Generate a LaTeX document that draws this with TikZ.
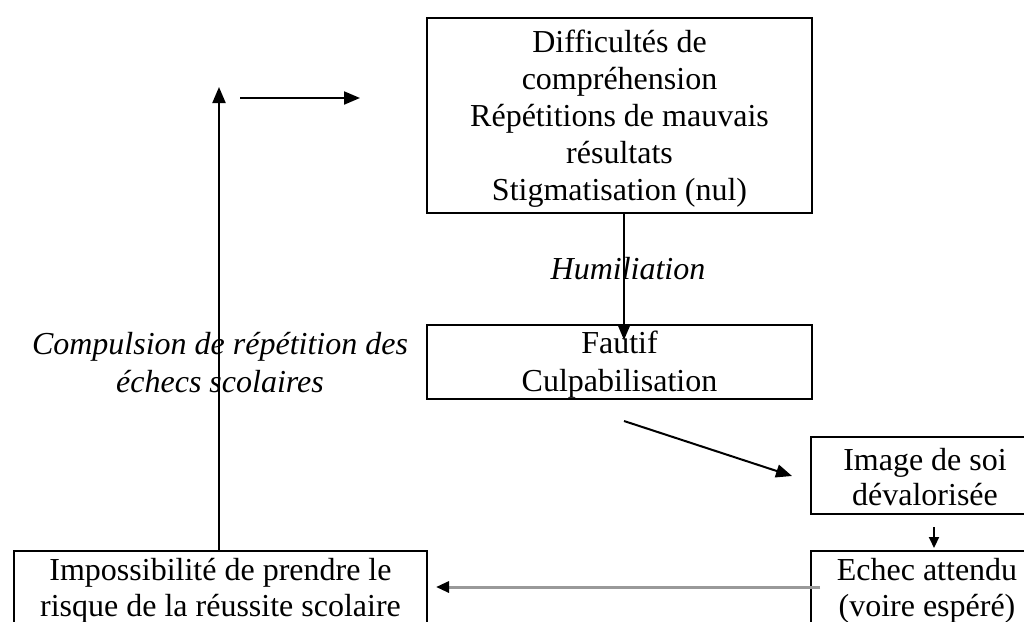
\documentclass[tikz,border=0pt]{standalone}
\usepackage{fontspec}
\setmainfont{Liberation Serif}
\usetikzlibrary{arrows.meta}
\begin{document}
\begin{tikzpicture}[x=1pt,y=-1pt,
  box/.style={draw, line width=2pt, inner sep=0pt, anchor=north west},
  txt/.style={align=center, inner sep=0pt, font=\fontsize{32pt}{37pt}\selectfont},
  lbl/.style={align=center, inner sep=0pt, font=\fontsize{32pt}{38pt}\selectfont\itshape},
  arr/.style={line width=2pt, -{Triangle[length=16pt,width=13pt]}},
  grayarr/.style={line width=3pt, draw=black!40, -{Triangle[length=13pt,width=11pt,color=black,fill=black]}}
]
\useasboundingbox (0,0) rectangle (1024,621);
\fill[white] (0,0) rectangle (1024,621);

\node[box, minimum width=385pt, minimum height=195pt] (top) at (426,17) {};
\node[txt] (toptxt) at ([yshift=-3pt]top.center)
  {Difficultés de\\compréhension\\Répétitions de mauvais\\résultats\\Stigmatisation (nul)};
\node[box, minimum width=385pt, minimum height=74pt] (faut) at (426,324) {};
\node[txt, font=\fontsize{32pt}{38pt}\selectfont] (fauttxt) at ([yshift=-3pt]faut.center)
  {Fautif\\Culpabilisation};
\node[box, minimum width=228pt, minimum height=77pt] (img) at (810,436) {};
\node[txt, font=\fontsize{32pt}{35pt}\selectfont] (imgtxt) at ([yshift=-2pt]img.center)
  {Image de soi\\dévalorisée};
\node[box, minimum width=232pt, minimum height=76pt] (ech) at (810,550) {};
\node[txt, font=\fontsize{32pt}{36pt}\selectfont] (echtxt) at ([yshift=-1.5pt]ech.center)
  {Echec attendu\\(voire espéré)};
\node[box, minimum width=413pt, minimum height=76pt] (imp) at (13,550) {};
\node[txt, font=\fontsize{32pt}{36pt}\selectfont] (imptxt) at ([yshift=-1.5pt]imp.center)
  {Impossibilité de prendre le\\risque de la réussite scolaire};

\node[lbl] (hum) at (628,269) {Humiliation};
\node[lbl] (comp) at (220,363) {Compulsion de répétition des\\échecs scolaires};

\coordinate (vtop) at (219,87);
\coordinate (h1) at (240,98);
\coordinate (h2) at (360,98);
\coordinate (humtip) at (624,340);
\coordinate (d1) at (624,421);
\coordinate (d2) at (792,476);
\coordinate (ie) at (934,527);

\draw[arr] (imp.north -| vtop) -- (vtop);
\draw[arr] (h1) -- (h2);
\draw[arr] (top.south -| humtip) -- (humtip);
\draw[arr] (d1) -- (d2);
\draw[arr, -{Triangle[length=11pt,width=10pt]}] (ie) -- ([yshift=2pt]ech.north -| ie);
\draw[grayarr] ([xshift=10pt,yshift=2pt]ech.west) -- ([xshift=8pt,yshift=2pt]imp.east);
\end{tikzpicture}
\end{document}
